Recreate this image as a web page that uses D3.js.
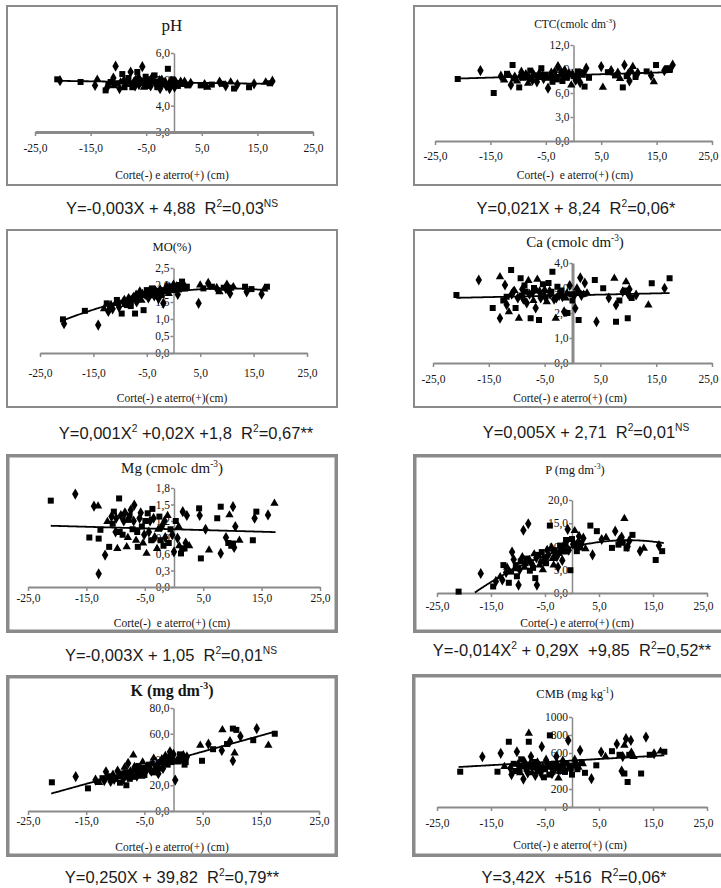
<!DOCTYPE html>
<html>
<head>
<meta charset="utf-8">
<script src="https://cdn.jsdelivr.net/npm/d3@7/dist/d3.min.js"></script>
<style>
  body { margin: 0; background: #fff; }
  svg { display: block; }
</style>
</head>
<body>
<svg id="fig" width="721" height="888"></svg>
<script>
// Shared x axis ticks: cut (-) and fill (+) depth, cm
const xTicks = [-25, -15, -5, 5, 15, 25];

// Y-axis ticks of each attribute
const phTicks  = [3, 4, 5, 6];
const ctcTicks = [0, 3, 6, 9, 12];
const moTicks  = [0, 0.5, 1, 1.5, 2, 2.5];
const caTicks  = [0, 1, 2, 3, 4];
const mgTicks  = [0, 0.3, 0.6, 0.9, 1.2, 1.5, 1.8];
const pTicks   = [0, 5, 10, 15, 20];
const kTicks   = [0, 20, 40, 60, 80];
const cmbTicks = [0, 200, 400, 600, 800, 1000];

// Observations: [depth (cm), value]
const phPoints = [[-21,5.0],[-20.5,4.95],[-16.8,4.9],[-14.2,4.77],[-13.8,5.0],[-12.3,4.58],[-12,4.7],[-11.4,4.9],[-10.5,5.5],[-10.8,4.75],[-10.2,4.85],[-9.8,4.65],[-9.3,5.2],[-9,4.95],[-8.6,4.8],[-8.2,5.05],[-7.8,5.28],[-7.5,4.7],[-7.2,4.9],[-6.9,5.0],[-6.6,5.28],[-6.3,4.8],[-6,4.95],[-5.7,5.48],[-5.4,4.7],[-5.1,5.1],[-4.8,4.85],[-4.5,5.0],[-4.2,4.75],[-3.9,4.95],[-3.5,5.15],[-3.2,4.8],[-2.8,4.9],[-2.5,4.65],[-2.2,5.0],[-1.8,4.85],[-1.4,4.75],[-1.1,5.4],[-0.8,4.65],[-0.5,4.95],[-0.2,4.8],[0.3,4.9],[0.7,4.75],[1.2,4.9],[1.6,4.8],[2.4,4.77],[3,4.85],[4.8,4.77],[5.5,4.8],[6,4.7],[6.8,4.8],[8.2,4.9],[8.7,4.83],[9.3,4.75],[10.2,4.9],[10.8,4.65],[11.4,4.8],[13.5,4.7],[14.4,4.83],[16.5,4.9],[17.2,4.85],[17.7,4.93],
  [-11.8,4.8],[-10.9,5.05],[-9.6,4.9],[-8.9,4.7],[-8.4,4.95],[-7.6,4.85],[-7,4.75],[-6.4,5.1],[-5.9,4.85],[-5.2,4.9],[-4.6,4.75],[-4,5.05],[-3.4,4.9],[-3,4.7],[-2.6,4.95],[-2,4.8],[-1.6,4.9],[-0.9,4.85],[-0.3,5.0],[0.1,4.7],[0.9,4.85],[1.9,4.9]];
const ctcPoints = [[-20.9,7.75],[-16.8,8.8],[-14.4,6.0],[-13.1,8.1],[-12.5,7.6],[-12,8.4],[-11.3,7.0],[-11,9.5],[-10.6,8.0],[-10.2,7.5],[-9.8,6.7],[-9.4,8.6],[-9,7.9],[-8.6,8.3],[-8.2,7.2],[-7.8,8.8],[-7.4,7.6],[-7,8.2],[-6.6,7.4],[-6.2,8.5],[-5.8,9.1],[-5.4,7.8],[-5,8.3],[-4.6,6.6],[-4.2,8.0],[-3.8,7.4],[-3.4,8.6],[-3,7.7],[-2.8,9.3],[-2.4,8.2],[-2,7.5],[-1.6,8.8],[-1.2,7.9],[-0.8,8.4],[-0.4,7.0],[0,8.1],[0.4,7.6],[0.8,8.7],[1.2,7.3],[1.6,8.2],[2,6.8],[2.3,9.1],[2.8,7.9],[5,9.3],[5.3,6.7],[6.2,8.6],[6.8,8.8],[7.5,8.2],[8,8.5],[8.4,7.8],[8.9,6.7],[9.2,9.5],[9.6,8.1],[10.1,7.5],[10.7,9.3],[11.2,8.0],[11.6,8.5],[13.2,8.7],[14,8.2],[14.5,7.4],[14.9,9.5],[16.4,8.8],[17,9.1],[17.9,9.5],
  [-11.6,8.2],[-10.8,7.8],[-9.6,8.1],[-8.8,8.0],[-8,7.9],[-7.2,8.4],[-6.4,8.0],[-5.6,8.2],[-4.8,7.9],[-4,8.5],[-3.6,8.1],[-3.2,8.0],[-2.2,8.6],[-1.8,8.0],[-1,8.2],[-0.2,8.4],[0.6,8.0],[1,8.3],[1.8,8.6],[9.9,8.4],[10.4,8.8],[17.4,9.0]];
const moPoints = [[-20.7,0.99],[-20.5,0.86],[-16.6,1.24],[-14.1,0.82],[-13,1.3],[-12.5,1.46],[-12.2,1.22],[-11.9,1.37],[-11.4,1.3],[-10.9,1.45],[-10.6,1.56],[-10.2,1.35],[-9.7,1.16],[-9.4,1.5],[-9,1.42],[-8.7,1.41],[-8.4,1.6],[-8,1.38],[-7.8,1.55],[-7.5,1.66],[-7.2,1.16],[-6.9,1.5],[-6.6,1.7],[-6.3,1.8],[-6,1.55],[-5.6,1.26],[-5.3,1.72],[-5,1.85],[-4.7,1.62],[-4.4,1.75],[-4,1.9],[-3.6,1.68],[-3.2,1.8],[-2.8,1.6],[-2.5,1.88],[-2.2,1.7],[-1.9,1.46],[-1.6,1.82],[-1.3,1.95],[-0.9,1.75],[-0.5,1.9],[0,2.0],[0.4,1.85],[0.8,1.72],[1.2,1.9],[1.6,2.1],[2,1.98],[2.5,1.95],[4.7,1.46],[5,2.0],[5.6,1.9],[6.5,2.05],[7.2,1.95],[8.1,1.9],[8.6,1.8],[9.4,1.92],[10,2.0],[10.3,1.85],[10.6,1.75],[11.2,1.95],[13.4,1.95],[13.7,1.8],[14.6,1.88],[16.5,1.73],[17,1.88],[17.5,1.95],
  [-11.7,1.4],[-10.4,1.48],[-9.2,1.55],[-8.2,1.5],[-7.6,1.6],[-7,1.7],[-6.8,1.58],[-6.1,1.68],[-5.8,1.75],[-5.1,1.7],[-4.5,1.82],[-4.2,1.7],[-3.8,1.78],[-3.4,1.85],[-3,1.72],[-2.6,1.8],[-2,1.85],[-1.1,1.88],[-0.7,1.95],[-0.2,1.85],[0.6,1.95],[1,2.0],[1.4,1.92],[1.8,2.02],[2.2,1.9],[9.8,1.9],[10.8,1.92]];
const caPoints = [[-20.8,2.72],[-16.8,3.32],[-14.3,2.2],[-13,1.79],[-13,3.45],[-12.4,2.5],[-12.1,3.12],[-11.8,2.65],[-11.8,2.33],[-11.4,2.05],[-11,3.72],[-10.6,2.85],[-10.2,2.2],[-9.8,2.6],[-9.6,1.79],[-9.3,3.39],[-9,2.95],[-8.6,3.1],[-8.2,2.4],[-7.9,3.3],[-7.5,1.79],[-7.2,2.8],[-6.9,3.0],[-6.6,2.2],[-6.3,3.35],[-6,1.72],[-5.7,2.6],[-5.3,3.15],[-5,2.9],[-4.6,2.45],[-4.3,3.2],[-4,2.75],[-3.6,3.65],[-3.3,2.55],[-3,1.79],[-2.7,3.05],[-2.4,2.7],[-2,2.9],[-1.5,2.05],[-1.2,2.6],[-0.9,2.0],[-0.5,3.1],[0,2.5],[0.5,2.19],[0.8,3.0],[1.1,1.72],[1.4,3.41],[1.8,2.75],[2.2,3.2],[2.6,2.8],[4,3.32],[4.3,1.65],[5.5,2.99],[6.5,2.6],[7.5,3.39],[7.8,1.65],[7.8,2.32],[8.4,2.5],[9,2.85],[9.6,3.25],[9.9,1.79],[10.2,2.95],[10.6,2.6],[11.4,2.72],[13.6,2.32],[14.2,3.19],[16.5,2.99],[17.4,3.39],
  [-10.9,2.75],[-10.4,2.9],[-9.1,2.7],[-8.8,2.55],[-8.4,2.85],[-7.7,2.75],[-7,2.5],[-6.7,2.9],[-5.9,2.85],[-5.5,2.7],[-4.8,2.6],[-4.1,2.9],[-3.8,2.85],[-2.9,2.6],[-2.2,2.8],[-1.8,2.65],[-1,2.8],[-0.2,2.75],[0.3,2.7],[1,2.8],[1.6,2.7],[2,2.75],[9.4,2.9],[10,2.75]];
const mgPoints = [[-21.1,1.57],[-16.9,1.69],[-14.5,0.9],[-13.7,1.47],[-13,1.47],[-12.9,0.88],[-12.9,0.24],[-12.6,1.04],[-11.8,0.58],[-11.4,1.19],[-11.1,0.73],[-10.7,1.28],[-10.3,1.37],[-10,1.0],[-9.7,0.7],[-9.4,1.61],[-9.1,1.3],[-8.8,0.95],[-8.4,1.35],[-8.1,0.73],[-7.8,1.22],[-7.4,1.4],[-7.1,1.05],[-6.8,1.49],[-6.5,0.85],[-6.2,0.73],[-5.9,1.25],[-5.5,1.1],[-5.1,0.95],[-4.7,0.61],[-4.5,1.34],[-4.1,1.2],[-3.7,1.42],[-3.3,0.9],[-2.9,0.7],[-2.5,1.28],[-2.1,1.1],[-1.8,0.75],[-1.5,0.9],[-1.1,1.3],[-0.6,1.05],[0,0.64],[0.3,1.2],[0.6,0.89],[0.9,0.75],[1.2,0.61],[1.5,1.37],[1.8,0.7],[2.2,1.3],[2.6,0.75],[4.3,1.43],[4.4,1.3],[4.6,0.52],[5.4,1.05],[6,0.67],[7.4,1.25],[8,0.61],[8,1.46],[8.9,0.9],[9.5,1.31],[9.8,0.75],[10.1,1.46],[10.1,0.79],[10.5,1.1],[11.2,0.85],[13.5,0.85],[13.8,1.25],[14.1,1.37],[16.1,1.31],[17.2,1.52],
  [-10.5,1.15],[-9.9,1.25],[-9.3,1.0],[-8.6,1.2],[-7.9,0.9],[-7.6,1.3],[-6.9,1.2],[-6.3,1.0],[-5.7,1.35],[-5.3,0.8],[-4.9,1.2],[-4.3,1.0],[-3.9,0.85],[-3.5,1.25],[-2.7,1.05],[-2.3,0.85],[-1.6,1.2],[-0.9,0.8],[-0.3,0.95],[0.8,1.1],[1.4,0.7],[2,0.8],[9.3,0.8],[10.3,0.72]];
const pPoints = [[-21,0.3],[-16.9,4.2],[-14.6,1.4],[-14.1,2.5],[-13.3,3.5],[-12.7,6.0],[-12.2,4.4],[-11.7,2.2],[-11.1,8.8],[-10.6,5.2],[-10.2,3.6],[-9.9,1.7],[-9.5,6.8],[-9,13.5],[-8.8,5.5],[-8.4,7.4],[-8.1,14.9],[-7.8,4.8],[-7.4,6.2],[-7.0,8.4],[-6.8,3.2],[-6.5,1.7],[-6.2,8.2],[-5.8,6.6],[-5.4,5.0],[-5,7.6],[-4.6,9.2],[-4.1,14.5],[-3.8,9.7],[-3.4,6.0],[-3,8.0],[-2.6,5.6],[-2.2,10.2],[-1.8,7.0],[-1.4,8.8],[-1.1,11.4],[-0.8,13.7],[-0.3,4.9],[0.2,10.5],[0.5,13.4],[0.9,9.0],[1.3,12.2],[1.7,10.8],[2.1,11.8],[2.5,9.5],[3.4,14.5],[3.8,8.2],[4.6,13.3],[5.5,11.5],[6.3,11.9],[7.4,9.7],[8,13.3],[8.6,10.4],[9.2,12.0],[9.7,16.0],[10.1,9.6],[10.6,11.2],[11.2,12.5],[12.6,9.0],[13.3,9.6],[15.5,7.1],[16.1,10.2],[16.7,9.0],
  [-12.9,2.8],[-12,5.5],[-11.3,4.6],[-10.8,7.2],[-10.4,6.0],[-9.7,5.0],[-9.2,7.8],[-8.6,6.4],[-7.9,7.0],[-7.2,5.4],[-6.6,7.6],[-6,6.0],[-5.6,8.8],[-5.2,7.0],[-4.8,6.4],[-4.4,8.2],[-3.6,7.4],[-3.2,9.2],[-2.8,7.8],[-2.4,8.6],[-2,9.4],[-1.6,9.8],[-1.2,10.4],[-0.6,9.2],[0,11.6],[0.7,10.2],[1.1,11.0],[1.5,9.8],[8.8,11.4],[9.4,10.8],[10.3,10.0]];
const kPoints = [[-20.9,22.3],[-16.8,26.7],[-14.7,17.6],[-13.4,24],[-12.8,22],[-12.2,25.5],[-11.6,30.5],[-11.2,26],[-10.8,23],[-10.4,28.5],[-10,25],[-9.6,31],[-9.2,22],[-8.8,27.5],[-8.4,34],[-8.1,20],[-7.8,37],[-7.5,25],[-7.2,29],[-6.9,43.5],[-6.6,32],[-6.3,27],[-6,35],[-5.7,30],[-5.3,38],[-5,28],[-4.6,33],[-4.2,36],[-3.8,31],[-3.4,41],[-3,34],[-2.6,29],[-2.2,38],[-1.8,33],[-1.4,43],[-1,36],[-0.6,46],[-0.2,40],[0.3,24],[0.6,38],[1.1,44],[1.5,41],[1.9,36],[2.3,42],[4.6,51],[4.9,39],[6,52],[6.8,48],[8.3,47],[8.4,63],[9.2,52],[9.7,54],[10.2,64],[10.2,39],[10.5,45],[10.8,63],[11.5,58],[13.7,55],[14.3,64],[16.3,51],[17.4,60],
  [-11.9,23.5],[-11,27],[-10.2,24.5],[-9.4,26.5],[-9,29],[-8.6,25],[-8.2,30],[-7.9,27],[-7.4,31],[-7,26.5],[-6.7,34],[-6.2,30],[-5.8,32],[-5.5,27],[-5.1,33.5],[-4.8,30.5],[-4.4,35],[-4,32],[-3.6,37],[-3.2,30],[-2.8,36],[-2.4,33],[-2,40],[-1.6,37],[-1.2,39],[-0.8,42],[-0.4,38],[0,44],[0.8,41],[1.3,39],[1.7,43],[2.1,38]];
const cmbPoints = [[-20.7,392],[-16.6,558],[-13.8,392],[-13.2,596],[-12.5,450],[-11.7,725],[-11.2,360],[-10.8,480],[-10.2,614],[-9.8,420],[-9.4,530],[-9,310],[-8.6,470],[-8.2,380],[-8,818],[-8,725],[-7.6,560],[-7.2,440],[-6.8,350],[-6.4,500],[-6,400],[-5.6,670],[-5.2,330],[-4.8,520],[-4.4,440],[-4.1,796],[-3.7,370],[-3.3,480],[-2.9,560],[-2.5,320],[-2.1,430],[-1.7,510],[-1.3,390],[-0.7,740],[-0.4,450],[0,360],[0.5,520],[1,420],[1.5,629],[2,480],[2.4,380],[3.6,315],[4.5,463],[5.4,611],[6.2,560],[7.4,620],[8.3,700],[8.8,580],[9.2,400],[9.7,685],[9.7,372],[10,759],[10.3,278],[10.9,740],[11.4,560],[12.8,372],[13.7,777],[14.4,580],[15.2,592],[16.4,620],[17.1,614],
  [-11.4,430],[-10.5,400],[-10,470],[-9.6,380],[-9.2,450],[-8.8,500],[-8.4,420],[-7.8,470],[-7.4,380],[-7,500],[-6.6,430],[-6.2,460],[-5.8,380],[-5.4,450],[-5,420],[-4.6,480],[-4.2,360],[-3.9,450],[-3.5,400],[-3.1,430],[-2.7,470],[-2.3,400],[-1.9,460],[-1.5,430],[-1.1,480],[-0.2,410],[0.3,460],[0.8,480],[1.2,440],[1.8,500],[9.4,560],[10.6,580],[11,600]];

// Fitted curves: [a, b, c] for y = a·x² + b·x + c, and the x span of each curve
const trendPH  = [0, -0.003, 4.88];
const trendCTC = [0, 0.021, 8.24];
const trendMO  = [-0.001, 0.02, 1.8];
const trendCa  = [0, 0.005, 2.71];
const trendMg  = [0, -0.003, 1.05];
const trendP   = [-0.014, 0.29, 9.85];
const trendK   = [0, 1.25, 39.82];
const trendCMB = [0, 3.42, 516];

const spanPH = [-21, 17.7], spanCTC = [-20.9, 17.9], spanMO = [-20.7, 17.5], spanCa = [-20.8, 17.4];
const spanMg = [-21.1, 17.4], spanP = [-18, 17], spanK = [-21, 17.5], spanCMB = [-21, 17.1];

const fmt1 = d => d.toFixed(1).replace('.', ',');
const fmt0 = d => String(d);

// Text pieces: plain strings, or [text] for a superscript
const panels = [
  { pts: phPoints, coef: trendPH, span: spanPH, yTicks: phTicks, yDomain: [3, 6], yFmt: fmt1,
    box: [6, 5, 338, 186], bw: 2, xr: [35, 313], yr: [132, 53], xAxisW: 3, yAxisW: 1.5, labOff: 19,
    title: { parts: ["pH"], x: 172, y: 31, size: 17 },
    axisTitle: { text: "Corte(-) e aterro(+) (cm)", x: 172, y: 179 },
    eq: { parts: ["Y=-0,003X + 4,88  R", ["2"], "=0,03", ["NS"]], x: 172, y: 214 } },
  { pts: ctcPoints, coef: trendCTC, span: spanCTC, yTicks: ctcTicks, yDomain: [0, 12], yFmt: fmt1,
    box: [413, 5, 726, 186], bw: 2, xr: [435, 712], yr: [141, 45], xAxisW: 2, yAxisW: 1.5, labOff: 18,
    title: { parts: ["CTC(cmolc dm", ["-3"], ")"], x: 575, y: 28, size: 11.5 },
    axisTitle: { text: "Corte(-)  e aterro(+) (cm)", x: 575, y: 179 },
    eq: { parts: ["Y=0,021X + 8,24  R", ["2"], "=0,06*"], x: 576, y: 214 } },
  { pts: moPoints, coef: trendMO, span: spanMO, yTicks: moTicks, yDomain: [0, 2.5], yFmt: fmt1,
    box: [6, 229, 338, 408], bw: 2, xr: [40, 307], yr: [353, 268], xAxisW: 2, yAxisW: 1.5, labOff: 23,
    title: { parts: ["MO(%)"], x: 172, y: 251, size: 12.5 },
    axisTitle: { text: "Corte(-) e aterro(+)(cm)", x: 172, y: 402 },
    eq: { parts: ["Y=0,001X", ["2"], " +0,02X +1,8  R", ["2"], "=0,67**"], x: 186, y: 439 } },
  { pts: caPoints, coef: trendCa, span: spanCa, yTicks: caTicks, yDomain: [0, 4], yFmt: fmt1,
    box: [413, 229, 726, 408], bw: 2, xr: [433, 712], yr: [363, 263], xAxisW: 2, yAxisW: 3, labOff: 19,
    title: { parts: ["Ca  (cmolc dm", ["-3"], ")"], x: 575, y: 247, size: 15 },
    axisTitle: { text: "Corte(-) e aterro(+) (cm)", x: 570, y: 402 },
    eq: { parts: ["Y=0,005X + 2,71  R", ["2"], "=0,01", ["NS"]], x: 586, y: 438 } },
  { pts: mgPoints, coef: trendMg, span: spanMg, yTicks: mgTicks, yDomain: [0, 1.8], yFmt: fmt1,
    box: [6, 454, 338, 633], bw: 3.5, xr: [28, 320], yr: [587, 488], xAxisW: 2, yAxisW: 1.5, labOff: 14,
    title: { parts: ["Mg (cmolc dm", ["-3"], ")"], x: 172, y: 473, size: 15 },
    axisTitle: { text: "Corte(-)  e aterro(+) (cm)", x: 172, y: 627 },
    eq: { parts: ["Y=-0,003X + 1,05  R", ["2"], "=0,01", ["NS"]], x: 171, y: 661 } },
  { pts: pPoints, coef: trendP, span: spanP, yTicks: pTicks, yDomain: [0, 20], yFmt: fmt1,
    box: [413, 454, 726, 633], bw: 3.5, xr: [437, 707], yr: [593, 500], xAxisW: 2, yAxisW: 1.5, labOff: 16,
    title: { parts: ["P (mg dm", ["-3"], ")"], x: 575, y: 474, size: 12.5 },
    axisTitle: { text: "Corte(-) e aterro(+) (cm)", x: 577, y: 627 },
    eq: { parts: ["Y=-0,014X", ["2"], " + 0,29X  +9,85  R", ["2"], "=0,52**"], x: 572, y: 656 } },
  { pts: kPoints, coef: trendK, span: spanK, yTicks: kTicks, yDomain: [0, 80], yFmt: fmt1,
    box: [6, 675, 338, 857], bw: 3.5, xr: [28, 319], yr: [811, 708], xAxisW: 2, yAxisW: 1.5, labOff: 13,
    title: { parts: ["K (mg dm", ["-3"], ")"], x: 172, y: 696, size: 16, weight: 600 },
    axisTitle: { text: "Corte(-) e aterro(+) (cm)", x: 172, y: 851 },
    eq: { parts: ["Y=0,250X + 39,82  R", ["2"], "=0,79**"], x: 172, y: 883 } },
  { pts: cmbPoints, coef: trendCMB, span: spanCMB, yTicks: cmbTicks, yDomain: [0, 1000], yFmt: fmt0,
    box: [412, 674, 726, 857], bw: 3.5, xr: [437, 707], yr: [807, 717], xAxisW: 2, yAxisW: 1.5, labOff: 19,
    title: { parts: ["CMB (mg kg", ["-1"], ")"], x: 575, y: 698, size: 12.5 },
    axisTitle: { text: "Corte(-) e aterro(+) (cm)", x: 570, y: 849 },
    eq: { parts: ["Y=3,42X  +516  R", ["2"], "=0,06*"], x: 574, y: 883 } }
];

const svg = d3.select("#fig");
const serif = "'Liberation Serif', 'Times New Roman', serif";
const sans = "'Liberation Sans', Arial, sans-serif";
const axisGrey = "#8a8a8a";
const ink = "#151515";
// marker shapes of the sampling series
const symbols = [d3.symbolSquare, d3.symbolDiamond, d3.symbolSquare, d3.symbolDiamond, d3.symbolTriangle];
const symbolSizes = [36, 36, 36, 36, 30];

function richText(sel, parts, size) {
  let raised = false;
  parts.forEach(p => {
    if (Array.isArray(p)) {
      sel.append("tspan").attr("font-size", size * 0.62).attr("dy", raised ? 0 : -size * 0.42).text(p[0]);
      raised = true;
    } else {
      sel.append("tspan").attr("dy", raised ? size * 0.42 : 0).text(p);
      raised = false;
    }
  });
}

panels.forEach(pn => {
  const g = svg.append("g");
  const [bx0, by0, bx1, by1] = pn.box;

  // frame
  g.append("rect")
    .attr("x", bx0 + pn.bw / 2).attr("y", by0 + pn.bw / 2)
    .attr("width", bx1 - bx0 - pn.bw).attr("height", by1 - by0 - pn.bw)
    .attr("fill", "#fff").attr("stroke", axisGrey).attr("stroke-width", pn.bw);

  const x = d3.scaleLinear().domain([-25, 25]).range(pn.xr);
  const y = d3.scaleLinear().domain(pn.yDomain).range(pn.yr);

  // y axis at depth 0
  const yAxis = g.append("g")
    .attr("transform", `translate(${x(0)},0)`)
    .call(d3.axisLeft(y).tickValues(pn.yTicks).tickFormat(pn.yFmt).tickSize(3).tickSizeOuter(0).tickPadding(1));
  yAxis.select(".domain").attr("stroke", axisGrey).attr("stroke-width", pn.yAxisW);
  yAxis.selectAll(".tick line").attr("stroke", axisGrey).attr("stroke-width", 1.5);
  yAxis.selectAll(".tick text").attr("font-family", serif).attr("font-size", 11.5).attr("fill", ink);

  // x axis along the bottom of the value range
  const xAxis = g.append("g")
    .attr("transform", `translate(0,${y(pn.yDomain[0])})`)
    .call(d3.axisBottom(x).tickValues(xTicks).tickFormat(fmt1).tickSize(4).tickSizeOuter(0).tickPadding(pn.labOff - 11));
  xAxis.select(".domain").attr("stroke", axisGrey).attr("stroke-width", pn.xAxisW);
  xAxis.selectAll(".tick line").attr("stroke", axisGrey).attr("stroke-width", 1.5);
  xAxis.selectAll(".tick text").attr("font-family", serif).attr("font-size", 11.5).attr("fill", ink)
    .attr("dx", d => (d === 25 && pn.box[2] > 700) ? -4 : 0);

  // observations
  g.append("g").selectAll("path")
    .data(pn.pts)
    .join("path")
    .attr("transform", d => `translate(${x(d[0])},${y(d[1])})`)
    .attr("d", (d, i) => d3.symbol().type(symbols[i % 5]).size(symbolSizes[i % 5])())
    .attr("fill", "#000");

  // fitted curve
  const [a, b, c] = pn.coef;
  const xs = d3.range(pn.span[0], pn.span[1] + 0.001, 0.25);
  if (xs[xs.length - 1] < pn.span[1]) xs.push(pn.span[1]);
  g.append("path")
    .datum(xs)
    .attr("fill", "none").attr("stroke", "#000").attr("stroke-width", 1.8)
    .attr("d", d3.line().x(v => x(v)).y(v => y(a * v * v + b * v + c)));

  // title
  const t = g.append("text")
    .attr("x", pn.title.x).attr("y", pn.title.y)
    .attr("text-anchor", "middle").attr("font-family", serif)
    .attr("font-size", pn.title.size).attr("font-weight", pn.title.weight || 400)
    .attr("fill", ink);
  richText(t, pn.title.parts, pn.title.size);

  // x axis title
  g.append("text")
    .attr("x", pn.axisTitle.x).attr("y", pn.axisTitle.y)
    .attr("text-anchor", "middle").attr("font-family", serif).attr("font-size", 11.5)
    .attr("fill", ink).style("white-space", "pre")
    .text(pn.axisTitle.text);

  // regression equation under the frame
  const e = svg.append("text")
    .attr("x", pn.eq.x).attr("y", pn.eq.y)
    .attr("text-anchor", "middle").attr("font-family", sans).attr("font-size", 16.5)
    .attr("fill", "#1a1a1a").style("white-space", "pre");
  richText(e, pn.eq.parts, 16.5);
});
</script>
</body>
</html>
